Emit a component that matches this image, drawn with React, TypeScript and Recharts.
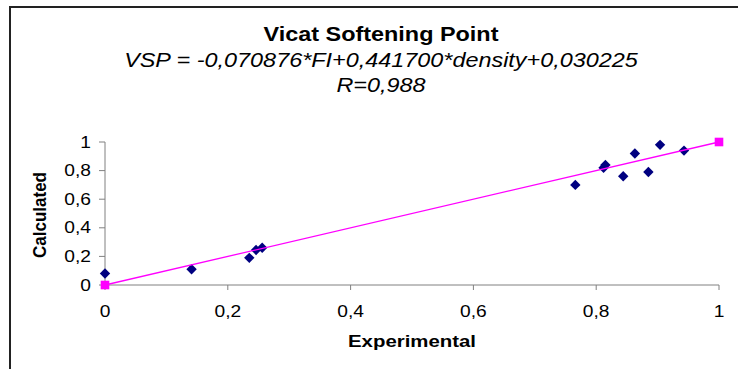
import { ScatterChart, Scatter, XAxis, YAxis } from 'recharts';

// measured points: experimental (x) vs calculated (y)
const experimental = [0, 0.141, 0.235, 0.246, 0.256, 0.766, 0.812, 0.815, 0.844, 0.863, 0.885, 0.904, 0.943];
const calculated = [0.08, 0.11, 0.19, 0.245, 0.26, 0.7, 0.82, 0.84, 0.76, 0.92, 0.79, 0.98, 0.94];

// ideal line y = x
const idealX = [0, 1];
const idealY = [0, 1];

const axisTicks = [0, 0.2, 0.4, 0.6, 0.8, 1];

const title = 'Vicat Softening Point';
const equation = 'VSP = -0,070876*FI+0,441700*density+0,030225';
const rValue = 'R=0,988';

const font = '"Liberation Sans", Arial, sans-serif';
const fmt = (v: number) => String(v).replace('.', ',');

const points = experimental.map((x, i) => ({ x, y: calculated[i] }));
const ideal = idealX.map((x, i) => ({ x, y: idealY[i] }));

const Diamond = (p: any) => {
  const { cx, cy } = p;
  const r = 5.2;
  return <path d={`M${cx},${cy - r}L${cx + r},${cy}L${cx},${cy + r}L${cx - r},${cy}Z`} fill="#000080" />;
};

const Square = (p: any) => {
  const { cx, cy } = p;
  return <rect x={cx - 4.3} y={cy - 4.3} width={8.6} height={8.6} fill="#FF00FF" />;
};

const XTick = (p: any) => (
  <g transform={`translate(${p.x},${p.y})`}>
    <text transform="scale(1.2,1)" textAnchor="middle" dy="0.71em" fontSize={16} fontFamily={font} fill="#000">
      {fmt(p.payload.value)}
    </text>
  </g>
);

const YTick = (p: any) => (
  <g transform={`translate(${p.x},${p.y})`}>
    <text transform="scale(1.2,1)" textAnchor="end" dy="0.355em" fontSize={16} fontFamily={font} fill="#000">
      {fmt(p.payload.value)}
    </text>
  </g>
);

const XTitle = (p: any) => {
  const vb = p.viewBox;
  return (
    <g transform={`translate(${vb.x + vb.width / 2},347)`}>
      <text transform="scale(1.2,1)" textAnchor="middle" fontSize={17} fontWeight="bold" fontFamily={font} fill="#000">
        Experimental
      </text>
    </g>
  );
};

const YTitle = () => (
  <g transform="translate(46,215) scale(1.1,1) rotate(-90)">
    <text textAnchor="middle" fontSize={17} fontWeight="bold" fontFamily={font} fill="#000">
      Calculated
    </text>
  </g>
);

const headLine = (text: string, top: number, bold: boolean) => (
  <div
    style={{
      position: 'absolute',
      left: 81,
      top,
      width: 600,
      textAlign: 'center',
      fontFamily: font,
      fontSize: 19.5,
      lineHeight: '20px',
      fontWeight: bold ? 'bold' : 'normal',
      fontStyle: bold ? 'normal' : 'italic',
      transform: 'scaleX(1.2)',
      whiteSpace: 'nowrap',
    }}
  >
    {text}
  </div>
);

export default function App() {
  return (
    <div style={{ position: 'absolute', left: 0, top: 0, width: 738, height: 369, background: '#fff' }}>
      <div
        style={{
          position: 'absolute',
          left: 9,
          top: 6,
          width: 740,
          height: 380,
          borderTop: '2px solid #222',
          borderLeft: '2px solid #222',
        }}
      />
      {headLine(title, 24, true)}
      {headLine(equation, 50, false)}
      {headLine(rValue, 75, false)}
      <div style={{ position: 'absolute', left: 0, top: 0 }}>
        <ScatterChart width={738} height={369} margin={{ top: 142, right: 19, bottom: 0, left: 0 }}>
          <XAxis
            type="number"
            dataKey="x"
            domain={[0, 1]}
            ticks={axisTicks}
            height={84}
            stroke="#808080"
            tickSize={5}
            tickMargin={16}
            tick={XTick}
            label={XTitle}
          />
          <YAxis
            type="number"
            dataKey="y"
            domain={[0, 1]}
            ticks={axisTicks}
            width={105}
            stroke="#808080"
            tickSize={6}
            tickMargin={8}
            tick={YTick}
            label={YTitle}
          />
          <Scatter data={points} shape={Diamond} isAnimationActive={false} />
          <Scatter
            data={ideal}
            shape={Square}
            line={{ stroke: '#FF00FF', strokeWidth: 1.3 }}
            isAnimationActive={false}
          />
        </ScatterChart>
      </div>
    </div>
  );
}
